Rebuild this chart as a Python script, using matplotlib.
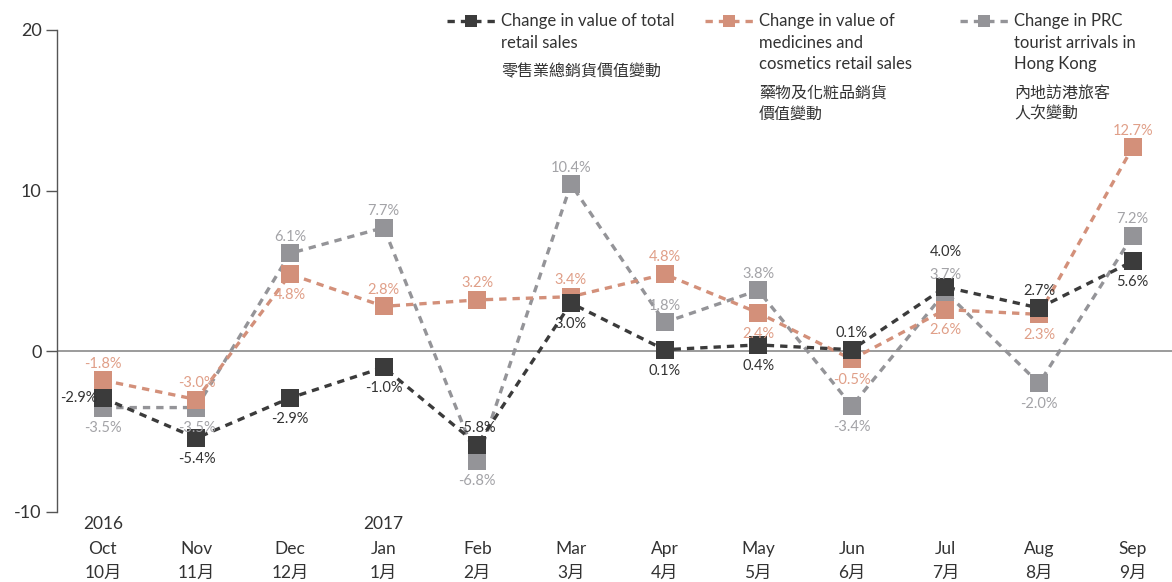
import numpy as np
import matplotlib
matplotlib.use("Agg")
import matplotlib.pyplot as plt
from matplotlib.lines import Line2D

plt.rcParams['font.family'] = ['Lato', 'Noto Sans CJK TC', 'DejaVu Sans']

months_en = ["Oct", "Nov", "Dec", "Jan", "Feb", "Mar", "Apr", "May", "Jun", "Jul", "Aug", "Sep"]
months_zh = ["10月", "11月", "12月", "1月", "2月", "3月", "4月", "5月", "6月", "7月", "8月", "9月"]
years = ["2016", "", "", "2017", "", "", "", "", "", "", "", ""]

total_retail = [-2.9, -5.4, -2.9, -1.0, -5.8, 3.0, 0.1, 0.4, 0.1, 4.0, 2.7, 5.6]
medicines = [-1.8, -3.0, 4.8, 2.8, 3.2, 3.4, 4.8, 2.4, -0.5, 2.6, 2.3, 12.7]
prc_arrivals = [-3.5, -3.5, 6.1, 7.7, -6.8, 10.4, 1.8, 3.8, -3.4, 3.7, -2.0, 7.2]

# where each value label sits: a = above, b = below, l = left, A = higher above
total_pos = ["l", "b", "b", "b", "a", "b", "b", "b", "a", "A", "a", "b"]
med_pos = ["a", "a", "b", "a", "a", "a", "a", "b", "b", "b", "b", "a"]
prc_pos = ["b", "b", "a", "a", "b", "a", "a", "a", "b", "a", "b", "a"]

c_total = "#3b3b3b"
c_med = "#d3907a"
c_prc = "#949498"
t_total = "#333333"
t_med = "#e09f88"
t_prc = "#a3a3a7"

W, H = 1172, 582
fig = plt.figure(figsize=(W / 100, H / 100), dpi=100)
ax = fig.add_axes([57 / W, (H - 512) / H, (W - 57) / W, (512 - 30) / H])

x = np.arange(len(months_en))

series = [
    (prc_arrivals, c_prc, t_prc, prc_pos),
    (medicines, c_med, t_med, med_pos),
    (total_retail, c_total, t_total, total_pos),
]

ax.axhline(0, color="#8a8a8a", lw=1.2, zorder=1)

for i, (vals, col, tcol, pos) in enumerate(series):
    ax.plot(x, vals, color=col, lw=2.4, linestyle=(0, (2.2, 1.8)),
            marker="s", markersize=13, markeredgewidth=0, zorder=2 + i)
    for xi, v, p in zip(x, vals, pos):
        if p == "a":
            off, ha, va = (0, 7), "center", "bottom"
        elif p == "A":
            off, ha, va = (0, 20), "center", "bottom"
        elif p == "b":
            off, ha, va = (0, -10), "center", "top"
        else:
            off, ha, va = (-4, 0), "right", "center"
        ax.annotate(f"{v:.1f}%", (xi, v), xytext=off, textcoords="offset points",
                    ha=ha, va=va, fontsize=10.5, color=tcol, zorder=10)

ax.set_xlim(-0.49, 11.42)
ax.set_ylim(-10, 20)
ax.set_yticks([-10, 0, 10, 20])
ax.set_yticklabels(["-10", "0", "10", "20"], fontsize=13, color="#333333")
ax.set_xticks(x)
ax.set_xticklabels([f"{y}\n{m}\n{z}" for y, m, z in zip(years, months_en, months_zh)],
                   fontsize=12.5, color="#333333", linespacing=1.65)
ax.tick_params(axis="x", length=0, pad=3)
ax.tick_params(axis="y", length=8, width=1, color="#555555", direction="out", pad=3)
for s in ["top", "right", "bottom"]:
    ax.spines[s].set_visible(False)
ax.spines["left"].set_color("#555555")
ax.spines["left"].set_linewidth(1)

# legend drawn by hand
legend_items = [
    (447, c_total, ["Change in value of total", "retail sales"], ["零售業總銷貨價值變動"]),
    (705, c_med, ["Change in value of", "medicines and", "cosmetics retail sales"], ["藥物及化粧品銷貨", "價值變動"]),
    (960, c_prc, ["Change in PRC", "tourist arrivals in", "Hong Kong"], ["內地訪港旅客", "人次變動"]),
]
for lx, col, en_lines, zh_lines in legend_items:
    fx = [lx / W, (lx + 24) / W, (lx + 48) / W]
    fy = [1 - 21 / H] * 3
    fig.add_artist(Line2D(fx, fy, color=col, lw=2.4, linestyle=(0, (2.2, 1.8)),
                          marker="s", markersize=8, markeredgewidth=0, markevery=[1],
                          transform=fig.transFigure))
    yy = 21
    for line in en_lines:
        fig.text((lx + 54) / W, 1 - yy / H, line, fontsize=12,
                 color="#333333", va="center", ha="left")
        yy += 21.5
    yy += 8
    for line in zh_lines:
        fig.text((lx + 54) / W, 1 - yy / H, line, fontsize=11.5,
                 color="#333333", va="center", ha="left")
        yy += 20.5

plt.savefig("out.png", dpi=100)
